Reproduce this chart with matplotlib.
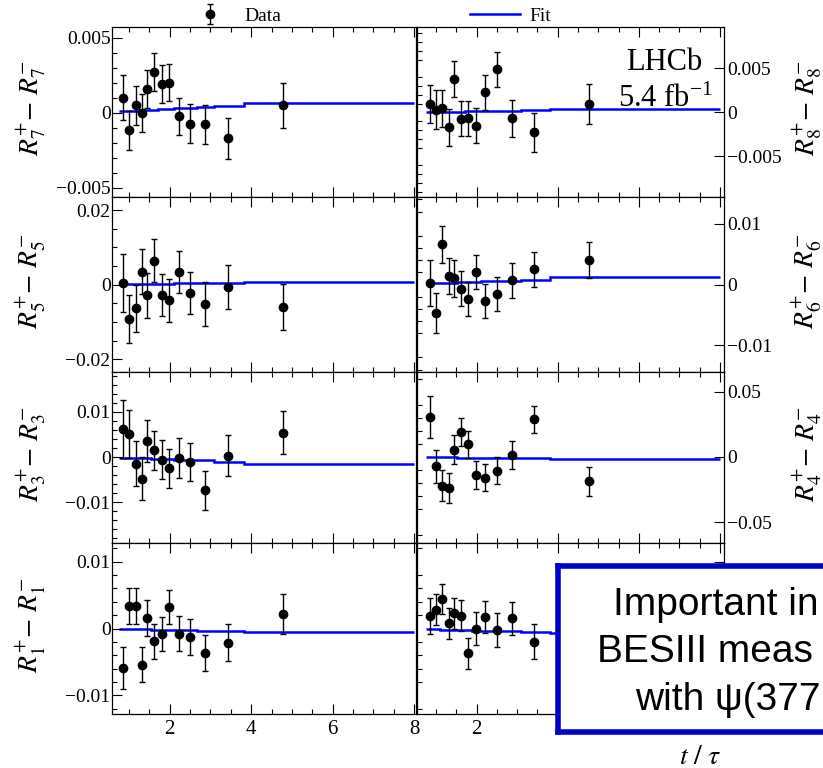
import numpy as np
import matplotlib
matplotlib.use("Agg")
import matplotlib.pyplot as plt
from matplotlib.ticker import MultipleLocator, FuncFormatter, FixedLocator

plt.rcParams['font.family'] = ['Liberation Serif', 'DejaVu Serif']
plt.rcParams['mathtext.fontset'] = 'stix'

# === data ===
t_mean = [0.85, 1.01, 1.16, 1.31, 1.45, 1.62, 1.80, 1.99, 2.22, 2.50, 2.87, 3.42, 4.78]
t_edges = [0.75, 0.93, 1.09, 1.24, 1.38, 1.53, 1.71, 1.90, 2.10, 2.36, 2.66, 3.09, 3.82, 8.0]

r7 = [0.0010, -0.00116, 0.00049, 0.0000, 0.00156, 0.0027, 0.0019, 0.0020, -0.00024, -0.00073, -0.00076, -0.0017, 0.00051]
r7_err = [0.0015, 0.0013, 0.0013, 0.00125, 0.00125, 0.00125, 0.00125, 0.00125, 0.00125, 0.0013, 0.0013, 0.00137, 0.0015]
r7_fit = [0.0001, 0.00012, 0.00014, 0.00016, 0.00018, 0.0002, 0.00023, 0.00026, 0.0003, 0.00033, 0.00037, 0.00044, 0.00067]

r8 = [0.00095, 0.0003, 0.0005, -0.00167, 0.0038, -0.00072, -0.00065, -0.0015, 0.0023, 0.0049, -0.00065, -0.00225, 0.00095]
r8_err = [0.0022, 0.0022, 0.0021, 0.0021, 0.002, 0.002, 0.002, 0.002, 0.002, 0.002, 0.0021, 0.0022, 0.0023]
r8_fit = [0.0, 0.00002, 0.00004, 0.00006, 0.00008, 0.0001, 0.00012, 0.00014, 0.00016, 0.00018, 0.0002, 0.00023, 0.0004]

r5 = [0.0005, -0.0092, -0.0063, 0.0035, -0.0028, 0.0064, -0.0028, -0.0042, 0.0034, -0.0022, -0.0052, -0.0006, -0.0059]
r5_err = [0.0077, 0.0065, 0.0063, 0.006, 0.006, 0.0058, 0.0057, 0.0058, 0.0057, 0.0057, 0.0058, 0.0058, 0.0062]
r5_fit = [0.0001, 0.00013, 0.00016, 0.00019, 0.00022, 0.00025, 0.00028, 0.00031, 0.00034, 0.00038, 0.00042, 0.00047, 0.0008]

r6 = [0.0002, -0.0047, 0.0066, 0.0014, 0.001, -0.00066, -0.0024, 0.0021, -0.0027, -0.0015, 0.0007, 0.0025, 0.004]
r6_err = [0.0038, 0.0033, 0.0031, 0.003, 0.003, 0.0029, 0.0028, 0.0028, 0.0028, 0.0028, 0.0029, 0.0029, 0.003]
r6_fit = [0.00016, 0.0002, 0.00024, 0.00028, 0.00032, 0.00036, 0.0004, 0.00045, 0.0005, 0.00055, 0.0006, 0.00075, 0.00126]

r3 = [0.0063, 0.0051, -0.0015, -0.0048, 0.0035, 0.0015, -0.0006, -0.0025, -0.0002, -0.0011, -0.0073, 0.0003, 0.0054]
r3_err = [0.0064, 0.0052, 0.005, 0.0048, 0.0046, 0.0043, 0.0043, 0.0043, 0.0044, 0.0043, 0.0043, 0.0045, 0.0047]
r3_fit = [-0.0001, -0.00015, -0.0002, -0.00025, -0.0003, -0.00035, -0.0004, -0.00047, -0.00055, -0.00065, -0.00075, -0.001, -0.00155]

r4 = [0.0305, -0.0072, -0.022, -0.024, 0.0056, 0.019, 0.0095, -0.0138, -0.0159, -0.0105, 0.0015, 0.0287, -0.0187]
r4_err = [0.0163, 0.0128, 0.0122, 0.0116, 0.0113, 0.0108, 0.0105, 0.0107, 0.0105, 0.0104, 0.0105, 0.0103, 0.011]
r4_fit = [0.0, -0.0001, -0.0002, -0.0003, -0.0004, -0.0005, -0.0006, -0.0007, -0.0008, -0.0009, -0.001, -0.0011, -0.0015]

r1 = [-0.0059, 0.0034, 0.0034, -0.0054, 0.0016, -0.0019, -0.0008, 0.0032, -0.0008, -0.0013, -0.0037, -0.0021, 0.0022]
r1_err = [0.0031, 0.0027, 0.0027, 0.0026, 0.0027, 0.0026, 0.0025, 0.0026, 0.0026, 0.0027, 0.0027, 0.0028, 0.003]
r1_fit = [-0.00005, -0.00007, -0.0001, -0.00012, -0.00014, -0.00016, -0.00018, -0.0002, -0.00023, -0.00026, -0.0003, -0.00035, -0.0005]

r2 = [0.0019, 0.0028, 0.0044, 0.0008, 0.0023, 0.0019, -0.0037, 0.0000, 0.0017, -0.0002, 0.0015, -0.002, 0.001]
r2_err = [0.0027, 0.0023, 0.0023, 0.0023, 0.0023, 0.0023, 0.0023, 0.0024, 0.0024, 0.0025, 0.0025, 0.0026, 0.003]
r2_fit = [-0.0001, -0.00012, -0.00015, -0.00018, -0.0002, -0.00023, -0.00026, -0.0003, -0.00034, -0.00038, -0.00043, -0.0005, -0.0006]

# (bin, values, errors, fit, ylim, major, minor)
panels = [
    [("7", r7, r7_err, r7_fit, (-0.0056, 0.0057), 0.005, 0.001),
     ("8", r8, r8_err, r8_fit, (-0.0096, 0.0097), 0.005, 0.001)],
    [("5", r5, r5_err, r5_fit, (-0.0234, 0.0235), 0.02, 0.005),
     ("6", r6, r6_err, r6_fit, (-0.0144, 0.0144), 0.01, 0.002)],
    [("3", r3, r3_err, r3_fit, (-0.019, 0.0188), 0.01, 0.002),
     ("4", r4, r4_err, r4_fit, (-0.066, 0.065), 0.05, 0.01)],
    [("1", r1, r1_err, r1_fit, (-0.0128, 0.0128), 0.01, 0.002),
     ("2", r2, r2_err, r2_fit, (-0.0128, 0.0128), 0.01, 0.002)],
]

W, H = 823, 768
fig = plt.figure(figsize=(W / 100, H / 100), dpi=100)

row_px = [27, 197, 372, 543, 714]
col_px = [(112, 416), (416.5, 724)]
col_xlim = [(0.58, 8.05), (0.52, 8.1)]


def fmt(v, pos):
    if abs(v) < 1e-12:
        return "0"
    return f"{v:g}".replace("-", "\u2212")


def fmt_x_covered(v, pos):
    # bottom-right panel: labels beyond t=2 sit under the overlay box
    return f"{v:g}" if v < 3 else ""


handles = None
for i, row in enumerate(panels):
    for j, (b, vals, errs, fit, ylim, major, minor) in enumerate(row):
        x0, x1 = col_px[j]
        ax = fig.add_axes([x0 / W, 1 - row_px[i + 1] / H, (x1 - x0) / W, (row_px[i + 1] - row_px[i]) / H])
        eb = ax.errorbar(t_mean, vals, yerr=errs, fmt='o', color='black', ms=6,
                         elinewidth=1, capsize=2, capthick=1, label='Data')
        st = ax.stairs(fit, t_edges, baseline=None, color='#0000ff', lw=1.8, label='Fit')
        if handles is None:
            handles = [eb, st]
        ax.set_xlim(*col_xlim[j])
        ax.set_ylim(*ylim)
        ax.xaxis.set_major_locator(MultipleLocator(2))
        ax.xaxis.set_minor_locator(MultipleLocator(0.5))
        ax.yaxis.set_major_locator(MultipleLocator(major))
        ax.yaxis.set_minor_locator(MultipleLocator(minor))
        ax.yaxis.set_major_formatter(FuncFormatter(fmt))
        ax.tick_params(which='both', direction='in', top=True, bottom=True, width=0.8)
        ax.tick_params(which='major', length=7)
        ax.tick_params(which='minor', length=3.5)
        ax.tick_params(axis='x', labelsize=15, pad=4, labelbottom=(i == 3))
        ax.tick_params(axis='y', labelsize=14)
        label = rf'$R^{{+}}_{{\mathit{{{b}}}}}\!-\,R^{{-}}_{{\mathit{{{b}}}}}$'
        covered = (i == 3 and j == 1)
        if j == 0:
            ax.tick_params(axis='y', left=True, right=False, pad=1)
            ax.set_ylabel(label, fontsize=20)
            ax.yaxis.set_label_coords(-0.21, 0.52)
        else:
            ax.tick_params(axis='y', left=False, right=True, labelleft=False,
                           labelright=not covered, pad=2)
            if not covered:
                ax.yaxis.set_label_position('right')
                ax.set_ylabel(label, fontsize=20, rotation=90)
                ax.yaxis.set_label_coords(1.215, 0.52)
        if covered:
            ax.xaxis.set_major_formatter(FuncFormatter(fmt_x_covered))
        for s in ax.spines.values():
            s.set_linewidth(0.9)

# legend on top
fig.legend(handles, ['Data', 'Fit'], loc='center', bbox_to_anchor=(368 / W, 1 - 16 / H),
           ncol=2, frameon=False, fontsize=14, handlelength=2.6, handletextpad=0.45,
           columnspacing=9.7, borderpad=0)

# LHCb label
fig.text(664 / W, 1 - 70 / H, 'LHCb', fontsize=22, ha='center', va='baseline')
fig.text(666 / W, 1 - 107 / H, r'5.4 fb$^{\mathregular{-1}}$', fontsize=22, ha='center', va='baseline')

# x axis title
fig.text(700 / W, 1 - 757 / H, r'$t\ /\ \tau$', fontsize=20, ha='center', va='center')

# overlay box
box = fig.add_axes([558 / W, 1 - 731.5 / H, 1 - 558 / W, (731.5 - 565.5) / H], zorder=10)
box.set_xticks([])
box.set_yticks([])
box.set_facecolor('white')
for side in ['left', 'top', 'bottom']:
    box.spines[side].set_color('#0000cc')
    box.spines[side].set_linewidth(4)
box.spines['right'].set_visible(False)

box_lines = ['Important in', 'BESIII meas', 'with \u03c8(377']
box_x = [613, 597, 635]
box_base = [615, 662, 710]
for txt, bx, by in zip(box_lines, box_x, box_base):
    fig.text(bx / W, 1 - by / H, txt, fontsize=28, family=['Liberation Sans', 'DejaVu Sans'],
             ha='left', va='baseline', zorder=11)

fig.savefig('out.png', dpi=100)
